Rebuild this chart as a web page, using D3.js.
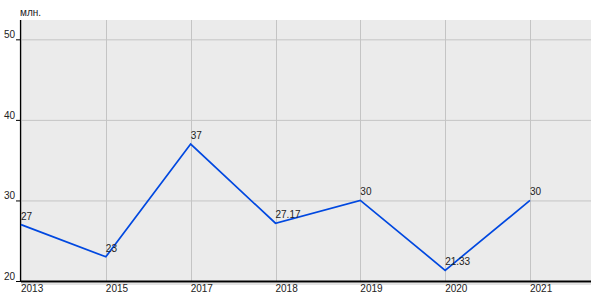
<!DOCTYPE html>
<html>
<head>
<meta charset="utf-8">
<script src="https://cdn.jsdelivr.net/npm/d3@7"></script>
<style>
  body { margin: 0; background: #fff; }
  text { font-family: "Liberation Sans", Arial, sans-serif; }
</style>
</head>
<body>
<svg id="chart"></svg>
<script>
// chart data
const years = ["2013", "2015", "2017", "2018", "2019", "2020", "2021"];
const values = [27, 23, 37, 27.17, 30, 21.33, 30];
const valueLabels = ["27", "23", "37", "27.17", "30", "21.33", "30"];
const yTicks = [20, 30, 40, 50];
const unitLabel = "млн.";

const width = 600, height = 300;
const plot = {left: 21, right: 591, top: 20, bottom: 281};

const svg = d3.select("#chart")
  .attr("width", width)
  .attr("height", height);

const x = d3.scalePoint()
  .domain(years)
  .range([plot.left, 530]);

const y = d3.scaleLinear()
  .domain([20, 52.4])
  .range([plot.bottom, plot.top]);

// background
svg.append("rect")
  .attr("x", plot.left)
  .attr("y", plot.top)
  .attr("width", plot.right - plot.left)
  .attr("height", plot.bottom - plot.top)
  .attr("fill", "#ebebeb");

// grid lines
svg.append("g")
  .selectAll("line")
  .data(yTicks)
  .enter().append("line")
  .attr("x1", plot.left).attr("x2", plot.right)
  .attr("y1", d => y(d) + 0.5).attr("y2", d => y(d) + 0.5)
  .attr("stroke", "#c4c4c4");

svg.append("g")
  .selectAll("line")
  .data(years)
  .enter().append("line")
  .attr("x1", d => Math.round(x(d)) + 0.5).attr("x2", d => Math.round(x(d)) + 0.5)
  .attr("y1", plot.top).attr("y2", plot.bottom)
  .attr("stroke", "#c4c4c4");

// y axis
svg.append("line")
  .attr("x1", plot.left - 0.5).attr("x2", plot.left - 0.5)
  .attr("y1", plot.top).attr("y2", plot.bottom + 1)
  .attr("stroke", "#000").attr("stroke-width", 1.2);

svg.append("g")
  .selectAll("line")
  .data(yTicks)
  .enter().append("line")
  .attr("x1", 16).attr("x2", plot.left)
  .attr("y1", d => y(d) + 0.5).attr("y2", d => y(d) + 0.5)
  .attr("stroke", "#000");

svg.append("g")
  .selectAll("text")
  .data(yTicks)
  .enter().append("text")
  .attr("x", 15)
  .attr("y", d => y(d) - 1)
  .attr("text-anchor", "end")
  .attr("font-size", 10)
  .attr("fill", "#222")
  .text(d => d);

svg.append("text")
  .attr("x", 20)
  .attr("y", 16)
  .attr("font-size", 10)
  .attr("fill", "#222")
  .text(unitLabel);

// x axis
svg.append("line")
  .attr("x1", plot.left).attr("x2", plot.right)
  .attr("y1", plot.bottom + 0.5).attr("y2", plot.bottom + 0.5)
  .attr("stroke", "#000").attr("stroke-width", 2);

svg.append("line")
  .attr("x1", plot.left).attr("x2", plot.right)
  .attr("y1", plot.bottom + 3).attr("y2", plot.bottom + 3)
  .attr("stroke", "#c8c8c8").attr("stroke-width", 1);

svg.append("g")
  .selectAll("text")
  .data(years)
  .enter().append("text")
  .attr("x", d => x(d))
  .attr("y", 292)
  .attr("font-size", 10)
  .attr("fill", "#222")
  .text(d => d);

// line
const line = d3.line()
  .x((d, i) => x(years[i]))
  .y(d => y(d));

svg.append("path")
  .datum(values)
  .attr("d", line)
  .attr("fill", "none")
  .attr("stroke", "#0048e0")
  .attr("stroke-width", 1.7);

// value labels
svg.append("g")
  .selectAll("text")
  .data(values)
  .enter().append("text")
  .attr("x", (d, i) => x(years[i]))
  .attr("y", d => y(d) - 5)
  .attr("font-size", 10)
  .attr("fill", "#222")
  .text((d, i) => valueLabels[i]);
</script>
</body>
</html>
